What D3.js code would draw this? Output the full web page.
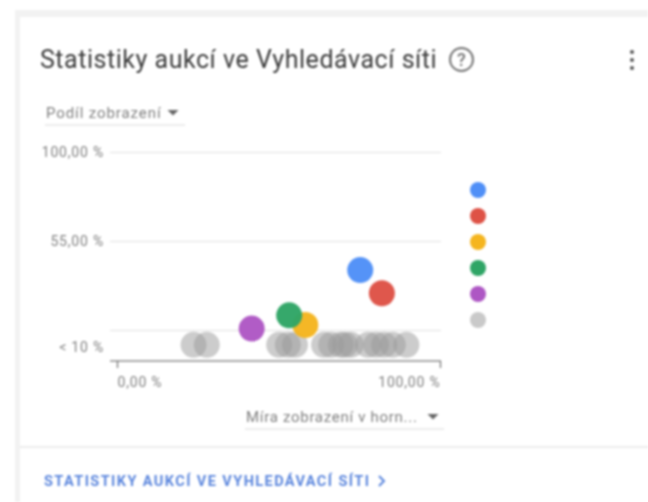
<!DOCTYPE html>
<html>
<head>
<meta charset="utf-8">
<script src="https://d3js.org/d3.v7.min.js"></script>
<style>
html, body { margin: 0; padding: 0; background: #fff; overflow: hidden; }
svg { display: block; font-family: Roboto, sans-serif; filter: blur(0.9px); }
</style>
</head>
<body>
<div id="container"></div>
<script>
const width = 648, height = 502;

// competitors, x = mira zobrazeni v horni casti, y = podil zobrazeni
const names = ["a", "b", "c", "d", "e"];
const topRate = [75.3, 82, 58.3, 53.3, 41.7];
const share = [40.3, 28.6, 12.5, 17.4, 10.7];
const colors = ["#4f8ff7", "#de5246", "#f5b51f", "#2fa566", "#ae57c4"];

// everyone under the 10 % threshold, drawn in the bottom band
const otherRate = [23.7, 27.8, 50.2, 52.9, 55.1, 64.1, 66.3, 69.3, 70.6, 72.4, 77.7, 80.2, 82.7, 85.4, 89.6];
const otherShare = 2.5;
const otherColor = "#999";

const legendColors = ["#4f8ff7", "#de5246", "#f5b51f", "#2fa566", "#ae57c4", "#c9c9c9"];
const gridTicks = [100, 55, 10];
const yLabelTicks = [100, 55, otherShare];
const yLabels = ["100,00 %", "55,00 %", "< 10 %"];
const xTicks = [0, 100];
const xLabels = ["0,00 %", "100,00 %"];

const x = d3.scaleLinear().domain([0, 100]).range([117, 440]);
const y = d3.scaleLinear().domain([10, 100]).range([330, 152]);

const svg = d3.select("#container").append("svg")
    .attr("width", width)
    .attr("height", height);

// card
svg.append("rect").attr("x", 15).attr("y", 10).attr("width", 633).attr("height", 492).attr("fill", "#f2f2f2");
svg.append("rect").attr("x", 20).attr("y", 17).attr("width", 628).attr("height", 485).attr("fill", "#fff");
svg.append("line").attr("x1", 20).attr("x2", 648).attr("y1", 447).attr("y2", 447)
    .attr("stroke", "#ececec").attr("stroke-width", 2);

// header
svg.append("text").attr("x", 40).attr("y", 68)
    .attr("font-size", 25).attr("letter-spacing", 0.53).attr("fill", "#3c3c3c")
    .text("Statistiky aukcí ve Vyhledávací síti");
svg.append("circle").attr("cx", 461.5).attr("cy", 59.5).attr("r", 11.5)
    .attr("fill", "none").attr("stroke", "#757575").attr("stroke-width", 2);
svg.append("text").attr("x", 461.5).attr("y", 66).attr("text-anchor", "middle")
    .attr("font-size", 18).attr("font-weight", 500).attr("fill", "#757575").text("?");
svg.append("g").selectAll("circle").data([-8, 0, 8]).join("circle")
    .attr("cx", 632).attr("cy", d => 60 + d).attr("r", 2).attr("fill", "#555");

// dropdowns
function dropdown(label, x0, x1, yBase, arrowX, spacing) {
    svg.append("text").attr("x", x0 + 1).attr("y", yBase + 5)
        .attr("font-size", 15).attr("letter-spacing", spacing).attr("fill", "#808080").text(label);
    svg.append("path")
        .attr("d", `M${arrowX - 5.5},${yBase - 3}h11l-5.5,5.5z`)
        .attr("fill", "#666");
    svg.append("line").attr("x1", x0).attr("x2", x1).attr("y1", yBase + 12).attr("y2", yBase + 12)
        .attr("stroke", "#e6e6e6").attr("stroke-width", 1.5);
}
dropdown("Podíl zobrazení", 45, 185, 113, 173, 0.9);
dropdown("Míra zobrazení v horn...", 245, 444, 417, 433, 0.7);

// grid
const grid = svg.append("g")
    .attr("transform", "translate(110,0)")
    .call(d3.axisRight(y).tickValues(gridTicks).tickSize(331).tickFormat(""));
grid.select(".domain").remove();
grid.selectAll("line").attr("stroke", "#e0e0e0").attr("stroke-width", 1.2);

const yAxis = svg.append("g")
    .attr("transform", "translate(108,0)")
    .call(d3.axisLeft(y).tickValues(yLabelTicks).tickSize(0).tickPadding(4)
        .tickFormat((d, i) => yLabels[i]));
yAxis.select(".domain").remove();
yAxis.selectAll("text").attr("font-size", 14).attr("letter-spacing", 0.8).attr("fill", "#808080")
    .attr("font-family", "Roboto, sans-serif")
    .attr("dy", (d, i) => i == 2 ? "0.5em" : "0.32em");

// x axis
const xAxis = svg.append("g")
    .attr("transform", "translate(0,361)")
    .call(d3.axisBottom(x).tickValues(xTicks).tickSize(7).tickSizeOuter(0).tickPadding(9)
        .tickFormat((d, i) => xLabels[i]));
xAxis.select(".domain").attr("d", "M110,0H441").attr("stroke", "#8c8c8c").attr("stroke-width", 1.5);
xAxis.selectAll("line").attr("stroke", "#777").attr("stroke-width", 1.3);
xAxis.selectAll("text").attr("font-size", 14).attr("letter-spacing", 0.8).attr("fill", "#808080")
    .attr("font-family", "Roboto, sans-serif")
    .attr("text-anchor", (d, i) => i ? "end" : "start");

// points
svg.append("g").selectAll("circle").data(otherRate).join("circle")
    .attr("cx", d => x(d))
    .attr("cy", y(otherShare))
    .attr("r", 13)
    .attr("fill", otherColor)
    .attr("fill-opacity", 0.5);

svg.append("g").selectAll("circle").data(names).join("circle")
    .attr("cx", (d, i) => x(topRate[i]))
    .attr("cy", (d, i) => y(share[i]))
    .attr("r", 13)
    .attr("fill", (d, i) => colors[i])
    .attr("fill-opacity", 0.97);

// legend
svg.append("g").selectAll("circle").data(legendColors).join("circle")
    .attr("cx", 478)
    .attr("cy", (d, i) => 190 + i * 26)
    .attr("r", 8)
    .attr("fill", d => d);

// link
svg.append("text").attr("x", 44).attr("y", 486)
    .attr("font-size", 14.5).attr("letter-spacing", 1.42).attr("font-weight", 700).attr("fill", "#5b86dd")
    .text("STATISTIKY AUKCÍ VE VYHLEDÁVACÍ SÍTI");
svg.append("path").attr("d", "M379,476l5,5l-5,5").attr("fill", "none")
    .attr("stroke", "#5b86dd").attr("stroke-width", 2);
</script>
</body>
</html>
